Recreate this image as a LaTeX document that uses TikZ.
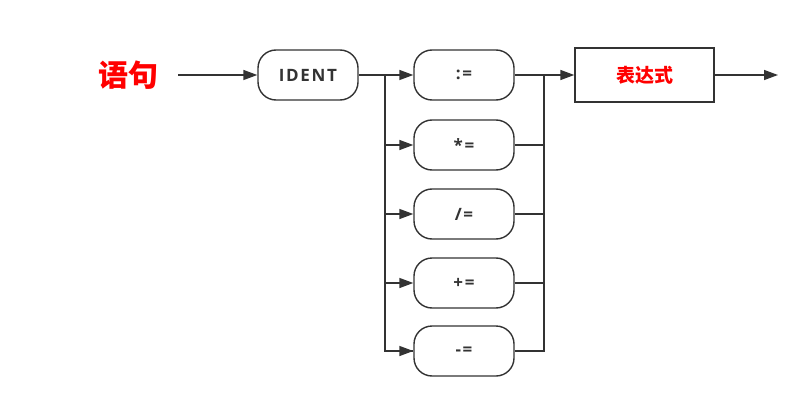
\documentclass[tikz,border=0pt]{standalone}
\usepackage{fontspec}
\setmainfont{Open Sans}
\newfontfamily\cjk{Noto Sans CJK SC}
\newfontfamily\spaced[LetterSpace=10]{Open Sans}
\usetikzlibrary{positioning,arrows.meta}
\definecolor{Ink}{HTML}{333333}
\definecolor{Hot}{HTML}{FF0000}

\begin{document}
\begin{tikzpicture}[x=1pt, y=-1pt, line width=1.4pt, draw=Ink,
  term/.style={rounded corners=18pt, draw=Ink, fill=white, minimum width=100pt, minimum height=50pt, font=\spaced\bfseries\fontsize{17}{19}\selectfont, text=Ink},
  rule/.style={draw=Ink, fill=white, minimum width=139pt, minimum height=54pt, font=\cjk\bfseries\fontsize{19}{21}\selectfont, text=Hot},
  go/.style={-{Triangle[length=14pt, width=10pt]}, draw=Ink}]
\useasboundingbox (0,0) rectangle (808,409);
\node[font=\cjk\bfseries\fontsize{30}{32}\selectfont, text=Hot] (stmt) at (128,75) {语句};
\node[term] (ident) at (308,75) {IDENT};
\node[term] (op1) at (464,75) {:=};
\node[term] (op2) at (464,145) {*=};
\node[term] (op3) at (464,214) {/=};
\node[term] (op4) at (464,283) {+=};
\node[term] (op5) at (464,351) {-=};
\node[rule] (expr) at (644.5,75) {表达式};
\coordinate (start) at (178,75);
\coordinate (split) at (385,75);
\coordinate (join) at (544,75);
\coordinate (finish) at (778,75);
% entry and exit
\draw[go] (start) -- (ident);
\draw (ident) -- (split);
\draw[go] (join) -- (expr);
\draw[go] (expr) -- (finish);
% branches
\draw (split) |- (op5.west);
\draw (join) |- (op5.east);
\foreach \k in {1,...,5} {
  \draw[go] (split |- op\k.west) -- (op\k.west);
  \draw (op\k.east) -- (join |- op\k.east);
}
\end{tikzpicture}
\end{document}
